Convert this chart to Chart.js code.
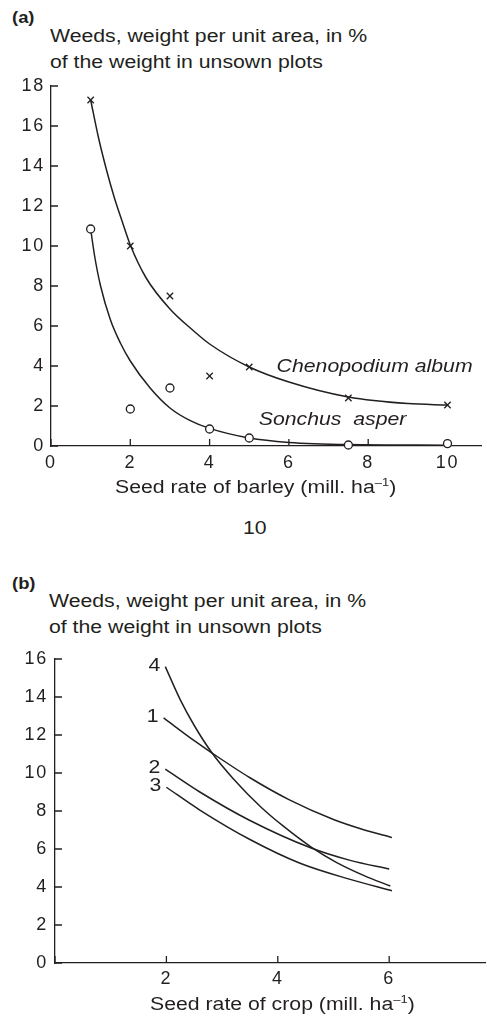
<!DOCTYPE html>
<html>
<head>
<meta charset="utf-8">
<script src="https://cdn.jsdelivr.net/npm/chart.js@4"></script>
<style>
  html, body { margin: 0; padding: 0; background: #fff; }
  #page { position: relative; width: 487px; height: 1019px; overflow: hidden;
          font-family: "Liberation Sans", Arial, sans-serif; color: #231f20; }
  .txt { position: absolute; white-space: nowrap; font-size: 18px; line-height: 26px;
         transform: scaleX(1.18); transform-origin: 0 0; }
  .panel { position: absolute; font-weight: bold; font-size: 16px; line-height: 16px;
           transform: scaleX(1.15); transform-origin: 0 0; }
  sup { font-size: 11px; line-height: 0; vertical-align: 0.6em; }
  canvas { position: absolute; left: 0; }
</style>
</head>
<body>
<div id="page">
  <div class="panel" style="left:12px; top:10px">(a)</div>
  <div class="txt" style="left:50px; top:23px">Weeds, weight per unit area, in %<br>of the weight in unsown plots</div>
  <canvas id="chartA" width="487" height="505" style="top:0"></canvas>
  <div class="txt" style="left:115px; top:474px">Seed rate of barley (mill. ha<sup>–1</sup>)</div>
  <div class="txt" style="left:243px; top:515px">10</div>

  <div class="panel" style="left:12px; top:576px">(b)</div>
  <div class="txt" style="left:49px; top:588px">Weeds, weight per unit area, in %<br>of the weight in unsown plots</div>
  <canvas id="chartB" width="487" height="514" style="top:505px"></canvas>
  <div class="txt" style="left:150px; top:991px">Seed rate of crop (mill. ha<sup>–1</sup>)</div>
</div>

<script>
// ---- panel (a): observed points and fitted curves ----
const seedRatesA = [1, 2, 3, 4, 5, 7.5, 10];
const chenopodiumObs = [17.3, 10.0, 7.5, 3.5, 3.95, 2.4, 2.05];
const sonchusObs = [10.85, 1.85, 2.9, 0.85, 0.4, 0.05, 0.12];

const chenopodiumFitX = [1, 1.2, 1.4, 1.6, 1.8, 2, 2.4, 3, 3.6, 4, 5, 6, 7.5, 9, 10];
const chenopodiumFitY = [17.3, 15.4, 13.8, 12.4, 11.2, 10.05, 8.4, 6.85, 5.75, 5.1, 3.95, 3.2, 2.45, 2.12, 2.05];
const sonchusFitX = [1, 1.1, 1.25, 1.5, 1.75, 2, 2.5, 3, 3.5, 4, 5, 6, 7.5, 10];
const sonchusFitY = [10.85, 9.5, 8.0, 6.3, 5.15, 4.25, 2.9, 1.9, 1.28, 0.88, 0.4, 0.18, 0.07, 0.04];

const speciesNames = ['Chenopodium album', 'Sonchus  asper'];

// ---- panel (b): four crop curves ----
const curveNames = ['1', '2', '3', '4'];
const curve1X = [1.95, 2.5, 2.82, 3.5, 4.2, 5, 5.5, 6.05];
const curve1Y = [12.9, 11.7, 11.05, 9.75, 8.6, 7.55, 7.05, 6.6];
const curve2X = [1.98, 2.6, 3.5, 4.6, 5.3, 6.0];
const curve2Y = [10.2, 9.0, 7.5, 6.05, 5.4, 4.95];
const curve3X = [2.0, 2.6, 3.5, 4.4, 5.3, 6.05];
const curve3Y = [9.25, 8.05, 6.5, 5.25, 4.4, 3.8];
const curve4X = [1.98, 2.25, 2.5, 2.82, 3.2, 3.7, 4.1, 4.6, 5.05, 5.55, 6.02];
const curve4Y = [15.6, 13.85, 12.5, 11.05, 9.7, 8.2, 7.2, 6.1, 5.3, 4.6, 4.05];

const ink = '#231f20';
const fontFamily = '"Liberation Sans", Arial, sans-serif';

const zip = (xs, ys) => xs.map((x, i) => ({ x: x, y: ys[i] }));

// the print is a little wider than the font: spread tick digits a bit
const wideText = {
    id: 'wideText',
    beforeDraw(chart) { chart.ctx.letterSpacing = '1.8px'; },
    afterDraw(chart) { chart.ctx.letterSpacing = '0px'; }
};

// small tick marks pointing into the plot
const inwardTicks = {
    id: 'inwardTicks',
    beforeDatasetsDraw(chart, args, opts) {
        const { ctx, chartArea, scales } = chart;
        ctx.save();
        ctx.strokeStyle = ink;
        ctx.lineWidth = 1.3;
        ctx.beginPath();
        scales.x.ticks.forEach(t => {
            const px = scales.x.getPixelForValue(t.value);
            ctx.moveTo(px, chartArea.bottom);
            ctx.lineTo(px, chartArea.bottom - opts.length);
        });
        scales.y.ticks.forEach(t => {
            const py = scales.y.getPixelForValue(t.value);
            ctx.moveTo(chartArea.left, py);
            ctx.lineTo(chartArea.left + opts.length, py);
        });
        ctx.stroke();
        ctx.restore();
    }
};

// text labels placed at data coordinates (stretched like the print)
const dataLabels = {
    id: 'dataLabels',
    afterDatasetsDraw(chart, args, opts) {
        const { ctx, scales } = chart;
        ctx.save();
        ctx.letterSpacing = '0px';
        ctx.fillStyle = ink;
        (opts.items || []).forEach(it => {
            ctx.font = it.font;
            ctx.textAlign = it.align || 'left';
            ctx.textBaseline = it.baseline || 'alphabetic';
            const px = scales.x.getPixelForValue(it.x) + (it.dx || 0);
            const py = scales.y.getPixelForValue(it.y) + (it.dy || 0);
            ctx.save();
            ctx.translate(px, py);
            ctx.scale(1.18, 1);
            ctx.fillText(it.text, 0, 0);
            ctx.restore();
        });
        ctx.restore();
    }
};

function axisOptions(min, max, fitSize, isX, padding, hideZero) {
    return {
        type: 'linear',
        min: min,
        max: max,
        afterFit: s => { if (isX) { s.height = fitSize; } else { s.width = fitSize; } },
        grid: { display: false, drawTicks: false },
        border: { display: true, color: ink, width: 1.3 },
        ticks: {
            stepSize: 2,
            includeBounds: false,
            autoSkip: false,
            maxRotation: 0,
            padding: padding,
            color: ink,
            font: { family: fontFamily, size: 18 },
            callback: v => (hideZero && v === 0) ? '' : v
        }
    };
}

function curve(xs, ys) {
    return {
        data: zip(xs, ys),
        showLine: true,
        pointRadius: 0,
        borderColor: ink,
        borderWidth: 1.5,
        tension: 0.4,
        cubicInterpolationMode: 'monotone'
    };
}

// panel (a)
new Chart(document.getElementById('chartA'), {
    type: 'scatter',
    data: {
        datasets: [
            {
                label: 'Chenopodium album (observed)',
                data: zip(seedRatesA, chenopodiumObs),
                pointStyle: 'crossRot',
                pointRadius: 4.5,
                borderColor: ink,
                borderWidth: 1.3,
                clip: false
            },
            {
                label: 'Sonchus asper (observed)',
                data: zip(seedRatesA, sonchusObs),
                pointStyle: 'circle',
                pointRadius: 4,
                backgroundColor: '#fff',
                borderColor: ink,
                borderWidth: 1.3,
                clip: false
            },
            curve(chenopodiumFitX, chenopodiumFitY),
            curve(sonchusFitX, sonchusFitY)
        ]
    },
    options: {
        responsive: false,
        animation: false,
        layout: { padding: { top: 86, right: 4, left: 0, bottom: 0 } },
        scales: {
            x: axisOptions(0, 10.85, 59, true, 6, false),
            y: axisOptions(0, 18, 51, false, 6, false)
        },
        plugins: {
            legend: { display: false },
            tooltip: { enabled: false },
            inwardTicks: { length: 7 },
            dataLabels: {
                items: [
                    { text: speciesNames[0], x: 5.69, y: 3.7, font: 'italic 18px ' + fontFamily },
                    { text: speciesNames[1], x: 5.24, y: 1.05, font: 'italic 18px ' + fontFamily }
                ]
            }
        }
    },
    plugins: [wideText, inwardTicks, dataLabels]
});

// panel (b)
const curvesB = [[curve1X, curve1Y], [curve2X, curve2Y], [curve3X, curve3Y], [curve4X, curve4Y]];

new Chart(document.getElementById('chartB'), {
    type: 'scatter',
    data: {
        datasets: curvesB.map((c, i) => Object.assign({ label: curveNames[i] }, curve(c[0], c[1])))
    },
    options: {
        responsive: false,
        animation: false,
        layout: { padding: { top: 154, right: 2, left: 0, bottom: 0 } },
        scales: {
            x: axisOptions(0, 7.72, 56, true, 5, true),
            y: axisOptions(0, 16, 55, false, 7, false)
        },
        plugins: {
            legend: { display: false },
            tooltip: { enabled: false },
            inwardTicks: { length: 7 },
            dataLabels: {
                items: curvesB.map((c, i) => ({
                    text: curveNames[i],
                    x: c[0][0],
                    y: c[1][0],
                    dx: -5,
                    dy: -1,
                    align: 'right',
                    baseline: 'middle',
                    font: '18px ' + fontFamily
                }))
            }
        }
    },
    plugins: [wideText, inwardTicks, dataLabels]
});
</script>
</body>
</html>
